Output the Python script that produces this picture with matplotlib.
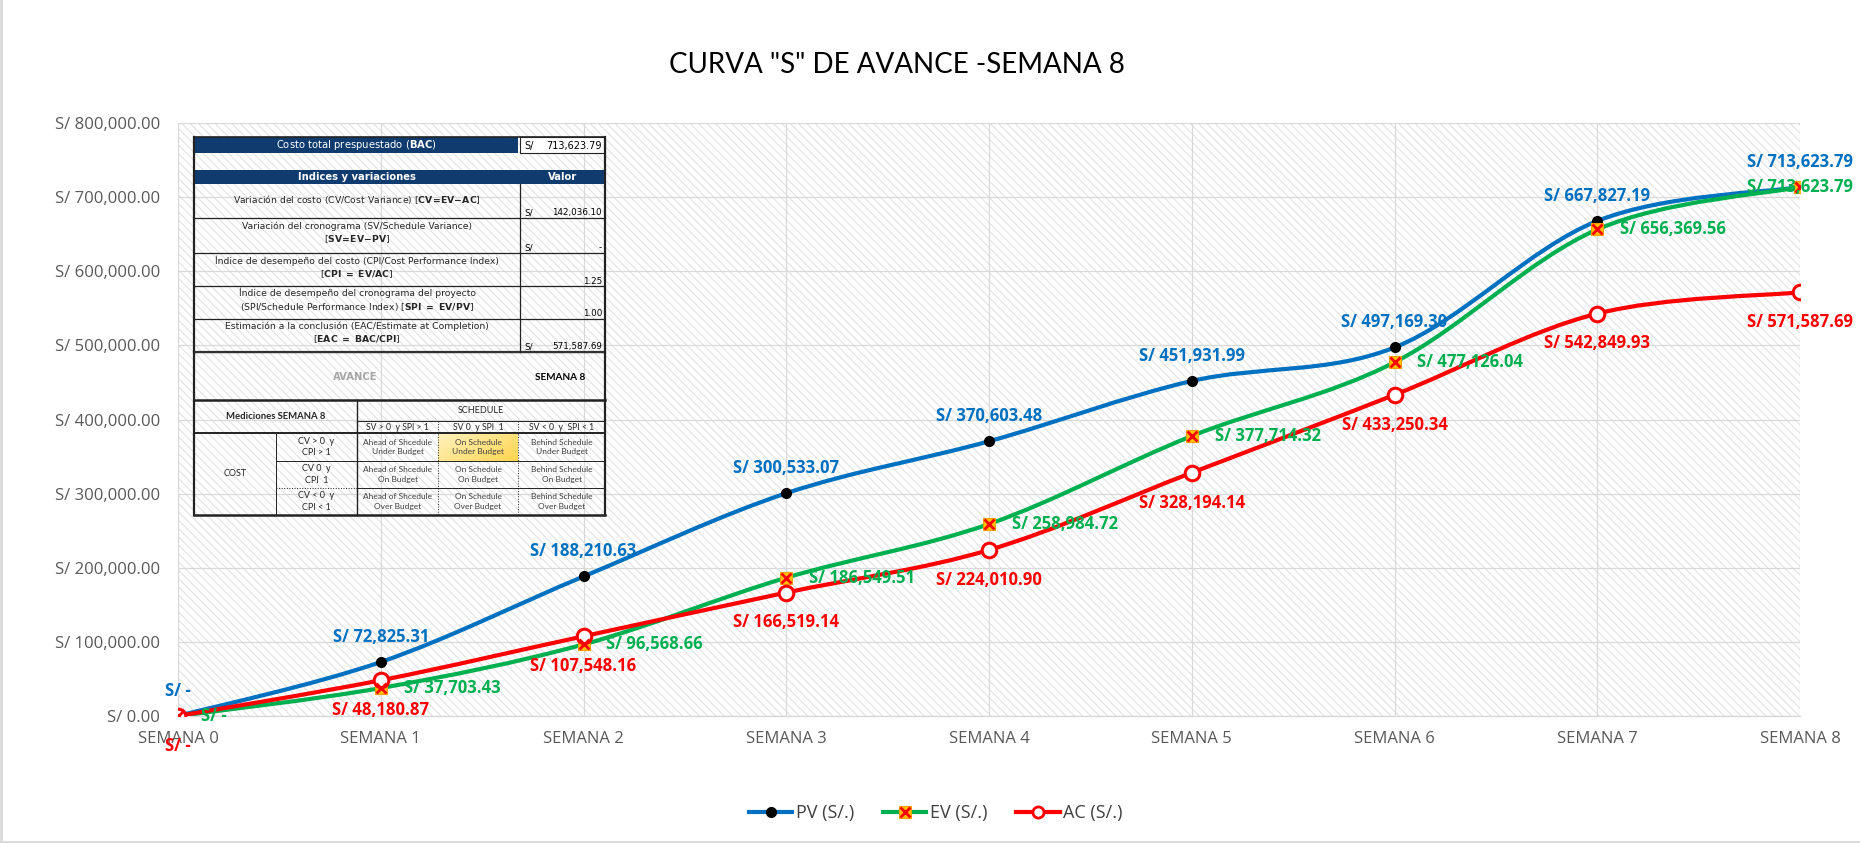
#=======================================================================
# Curva "S" de avance - semana 8 (PV / EV / AC)
#=======================================================================

import matplotlib
matplotlib.use("Agg")
import matplotlib.pyplot as plt
import numpy as np
from matplotlib.path import Path
from matplotlib.patches import PathPatch, Rectangle
from matplotlib.lines import Line2D
from matplotlib.legend_handler import HandlerTuple
from matplotlib.ticker import FuncFormatter, MultipleLocator

#=======================================================================
# Data
#=======================================================================

semanas = ["SEMANA 0", "SEMANA 1", "SEMANA 2", "SEMANA 3", "SEMANA 4",
           "SEMANA 5", "SEMANA 6", "SEMANA 7", "SEMANA 8"]

pv = [0, 72825.31, 188210.63, 300533.07, 370603.48,
      451931.99, 497169.30, 667827.19, 713623.79]
ev = [0, 37703.43, 96568.66, 186549.51, 258984.72,
      377714.32, 477126.04, 656369.56, 713623.79]
ac = [0, 48180.87, 107548.16, 166519.14, 224010.90,
      328194.14, 433250.34, 542849.93, 571587.69]

seriesNames = ["PV (S/.)", "EV (S/.)", "AC (S/.)"]
titulo = 'CURVA "S" DE AVANCE -SEMANA 8'

#table contents
bacTexto = "Costo total prespuestado ($\\mathbf{BAC}$)"
bacValor = "713,623.79"
indicesHeader = ["Indices y variaciones", "Valor"]
indicesTexto = [
    "Variación del costo (CV/Cost Variance) [$\\mathbf{CV\\!=\\!EV\\!-\\!AC}$]",
    "Variación del cronograma (SV/Schedule Variance)\n[$\\mathbf{SV\\!=\\!EV\\!-\\!PV}$]",
    "Índice de desempeño del costo (CPI/Cost Performance Index)\n[$\\mathbf{CPI\\ =\\ EV/AC}$]",
    "Índice de desempeño del cronograma del proyecto\n(SPI/Schedule Performance Index) [$\\mathbf{SPI\\ =\\ EV/PV}$]",
    "Estimación a la conclusión (EAC/Estimate at Completion)\n[$\\mathbf{EAC\\ =\\ BAC/CPI}$]",
]
indicesMoneda = [True, True, False, False, True]
indicesValor = ["142,036.10", "-", "1.25", "1.00", "571,587.69"]
avanceTexto = ["AVANCE", "SEMANA 8"]
medicionesTexto = "Mediciones SEMANA 8"
scheduleCols = ["SV > 0  y SPI > 1", "SV 0  y SPI  1", "SV < 0  y  SPI < 1"]
costRows = ["CV > 0  y\nCPI > 1", "CV 0  y\nCPI  1", "CV < 0  y\nCPI < 1"]
matriz = [
    ["Ahead of Shcedule\nUnder Budget", "On Schedule\nUnder Budget", "Behind Schedule\nUnder Budget"],
    ["Ahead of Shcedule\nOn Budget", "On Schedule\nOn Budget", "Behind Schedule\nOn Budget"],
    ["Ahead of Shcedule\nOver Budget", "On Schedule\nOver Budget", "Behind Schedule\nOver Budget"],
]

#=======================================================================
# Style
#=======================================================================

plt.rcParams['font.family'] = ['Open Sans', 'DejaVu Sans']
plt.rcParams['mathtext.fontset'] = 'custom'
plt.rcParams['mathtext.rm'] = 'DejaVu Sans'
plt.rcParams['mathtext.bf'] = 'DejaVu Sans:bold'
plt.rcParams['hatch.linewidth'] = 0.8

colPV = '#0070C0'
colEV = '#00B050'
colAC = '#FF0000'
navy = '#0F3B6F'
grisTexto = '#595959'
grisGrid = '#D9D9D9'

#=======================================================================
# Functions
#=======================================================================

#excel-like smoothed line as cubic bezier path
def smoothpath(x, y):
    px = np.concatenate([[x[0]], x, [x[-1]]])
    py = np.concatenate([[y[0]], y, [y[-1]]])
    verts = [(x[0], y[0])]
    codes = [Path.MOVETO]
    for i in range(len(x) - 1):
        c1 = (px[i+1] + (px[i+2] - px[i]) / 6, py[i+1] + (py[i+2] - py[i]) / 6)
        c2 = (px[i+2] - (px[i+3] - px[i+1]) / 6, py[i+2] - (py[i+3] - py[i+1]) / 6)
        verts += [c1, c2, (x[i+1], y[i+1])]
        codes += [Path.CURVE4] * 3
    return Path(verts, codes)

def soles(v):
    if v == 0:
        return "S/ -"
    return "S/ {:,.2f}".format(v)

#=======================================================================
# Figure
#=======================================================================

fig = plt.figure(figsize=(18.6, 8.43), dpi=100)
ax = fig.add_axes([178/1860, 1 - 716/843, 1622/1860, 593/843])

x = np.arange(len(semanas))

#hatched plot area
bg = Rectangle((0, 0), 1, 1, transform=ax.transAxes, facecolor='white',
               edgecolor='#E2E2E2', hatch='\\\\\\\\', lw=0, zorder=0)
ax.add_patch(bg)
ax.set_axisbelow(True)
ax.grid(True, color=grisGrid, lw=0.9)

for vals, col in [(pv, colPV), (ev, colEV), (ac, colAC)]:
    ax.add_patch(PathPatch(smoothpath(x, np.array(vals, float)), facecolor='none',
                           edgecolor=col, lw=3, capstyle='round', joinstyle='round', zorder=3))

#markers
ax.plot(x, pv, ls='none', marker='o', ms=7, mfc='black', mec='black', zorder=4)
ax.plot(x, ev, ls='none', marker='s', ms=9, mfc='#FFC000', mec='#F4A000', mew=0.8, zorder=4)
ax.plot(x, ev, ls='none', marker='x', ms=7, mec=colAC, mew=2, zorder=5)
ax.plot(x, ac, ls='none', marker='o', ms=10.5, mfc='white', mec=colAC, mew=2.2, zorder=4)

#data labels
for i in x:
    ax.annotate(soles(pv[i]), (i, pv[i]), xytext=(0, 18), textcoords='offset points',
                ha='center', va='center', color=colPV, fontsize=12, fontweight='bold', zorder=6)
    if i == x[-1]:
        ax.annotate(soles(ev[i]), (i, ev[i]), xytext=(0, 0), textcoords='offset points',
                    ha='center', va='center', color=colEV, fontsize=12, fontweight='bold', zorder=6)
    else:
        ax.annotate(soles(ev[i]), (i, ev[i]), xytext=(16.5, 0), textcoords='offset points',
                    ha='left', va='center', color=colEV, fontsize=12, fontweight='bold', zorder=6)
    ax.annotate(soles(ac[i]), (i, ac[i]), xytext=(0, -21.5), textcoords='offset points',
                ha='center', va='center', color=colAC, fontsize=12, fontweight='bold', zorder=6)

ax.set_xlim(0, len(semanas) - 1)
ax.set_ylim(0, 800000)
ax.set_xticks(x)
ax.set_xticklabels(semanas)
ax.yaxis.set_major_locator(MultipleLocator(100000))
ax.yaxis.set_major_formatter(FuncFormatter(lambda v, p: "S/ {:,.2f}".format(v)))
ax.tick_params(axis='both', length=0, labelsize=12, labelcolor=grisTexto)
ax.tick_params(axis='y', pad=13)
ax.tick_params(axis='x', pad=11)
for s in ['top', 'right', 'left']:
    ax.spines[s].set_visible(False)
ax.spines['bottom'].set_color(grisGrid)
ax.spines['bottom'].set_linewidth(1)

#title
fig.text(897/1860, 1 - 65/843, titulo, ha='center', va='center', fontsize=20,
         color='black', family=['Lato', 'DejaVu Sans'])

#legend
hPV = Line2D([], [], color=colPV, lw=3, marker='o', ms=7, mfc='black', mec='black')
hEV1 = Line2D([], [], color=colEV, lw=3, marker='s', ms=9, mfc='#FFC000', mec='#F4A000', mew=0.8)
hEV2 = Line2D([], [], ls='none', marker='x', ms=7, mec=colAC, mew=2)
hAC = Line2D([], [], color=colAC, lw=3, marker='o', ms=8, mfc='white', mec=colAC, mew=2)
fig.legend([hPV, (hEV1, hEV2), hAC], seriesNames, loc='center',
           bbox_to_anchor=(936/1860, 1 - 813/843), ncol=3, frameon=False,
           fontsize=13, labelcolor='#404040', handlelength=2.4, columnspacing=1.6,
           handletextpad=0.2, handler_map={tuple: HandlerTuple(ndivide=1, pad=0)})

#chart border (left and bottom visible)
fig.add_artist(Line2D([0.0008, 0.0008], [0, 1], color='#D9D9D9', lw=2))
fig.add_artist(Line2D([0, 1], [0.0012, 0.0012], color='#D9D9D9', lw=2))

#=======================================================================
# Table over the plot area (pixel coordinates)
#=======================================================================

tb = fig.add_axes([0, 0, 1, 1], zorder=5)
tb.set_xlim(0, 1860)
tb.set_ylim(843, 0)
tb.axis('off')
tb.patch.set_visible(False)

def caja(x0, y0, x1, y1, fc='none', ec='none', lw=0.8):
    tb.add_patch(Rectangle((x0, y0), x1 - x0, y1 - y0, facecolor=fc, edgecolor=ec, lw=lw))

def linea(xs, ys, ls='-', lw=0.8, col='#222222'):
    tb.plot(xs, ys, color=col, lw=lw, ls=ls)

tx0, tmid, tx1 = 194, 520, 605
tfont = ['DejaVu Sans']

#BAC row
caja(tx0, 137, 518, 153, fc=navy)
caja(tmid, 137, tx1, 153, fc='white', ec='#222222')
tb.text((tx0 + 518) / 2, 145.5, bacTexto, ha='center', va='center', color='white',
        fontsize=7.2, family=tfont)
tb.text(tmid + 4, 146, "S/", ha='left', va='center', fontsize=7, family=tfont)
tb.text(tx1 - 3, 146, bacValor, ha='right', va='center', fontsize=7, family=tfont)

#indices header
caja(tx0, 170, tx1, 184, fc=navy)
tb.text((tx0 + tmid) / 2, 177, indicesHeader[0], ha='center', va='center', color='white',
        fontsize=7.2, fontweight='bold', family=tfont)
tb.text((tmid + tx1) / 2, 177, indicesHeader[1], ha='center', va='center', color='white',
        fontsize=7.2, fontweight='bold', family=tfont)

rowEdges = [184, 218, 253, 286, 319, 352]
for k in range(len(indicesTexto)):
    ya, yb = rowEdges[k], rowEdges[k + 1]
    tb.text((tx0 + tmid) / 2, (ya + yb) / 2 - 2, indicesTexto[k], ha='center', va='center',
            fontsize=6.7, family=tfont, color='#262626', linespacing=1.3)
    if indicesMoneda[k]:
        tb.text(tmid + 4, yb - 5, "S/", ha='left', va='center', fontsize=6.3, family=tfont)
    tb.text(tx1 - 3, yb - 5, indicesValor[k], ha='right', va='center', fontsize=6.3, family=tfont)
    linea([tx0, tx1], [yb, yb], lw=0.9)
linea([tx0, tx1], [352, 352], lw=1.6, col='#333333')
linea([tmid, tmid], [184, 352], lw=0.9)

#avance row
tb.text(355, 377, avanceTexto[0], ha='center', va='center', fontsize=7.2,
        fontweight='bold', color='#A6A6A6', family=tfont)
tb.text(560, 377, avanceTexto[1], ha='center', va='center', fontsize=7.2,
        fontweight='bold', color='black', family=['Lato', 'DejaVu Sans'])

#matrix
mx = [194, 276, 357, 438, 518, 605]
my = [400, 421, 433, 461, 488, 515]
grad = np.linspace(0, 1, 64).reshape(1, -1) + np.linspace(0, 0.6, 16).reshape(-1, 1)
tb.imshow(grad, extent=(mx[3], mx[4], my[3], my[2]), aspect='auto', zorder=1,
          cmap=matplotlib.colors.LinearSegmentedColormap.from_list('y', ['#FFF2BF', '#FFD54F']))
tb.set_xlim(0, 1860)
tb.set_ylim(843, 0)

mfont = ['Lato', 'DejaVu Sans']
tb.text((mx[0] + mx[2]) / 2, (my[0] + my[2]) / 2, medicionesTexto, ha='center', va='center',
        fontsize=6.8, fontweight='bold', color='#262626', family=mfont)
tb.text((mx[2] + mx[5]) / 2, (my[0] + my[1]) / 2, "SCHEDULE", ha='center', va='center',
        fontsize=6.5, color='#262626', family=mfont)
for j in range(3):
    tb.text((mx[j + 2] + mx[j + 3]) / 2, (my[1] + my[2]) / 2, scheduleCols[j], ha='center',
            va='center', fontsize=6.2, color='#262626', family=mfont)
tb.text((mx[0] + mx[1]) / 2, (my[2] + my[5]) / 2, "COST", ha='center', va='center',
        fontsize=6.5, color='#262626', family=mfont)
for r in range(3):
    yc = (my[r + 2] + my[r + 3]) / 2
    tb.text((mx[1] + mx[2]) / 2, yc, costRows[r], ha='center', va='center', fontsize=6.5,
            color='#262626', family=mfont, linespacing=1.35)
    for j in range(3):
        tb.text((mx[j + 2] + mx[j + 3]) / 2, yc, matriz[r][j], ha='center', va='center',
                fontsize=6, color='#404040', family=mfont, linespacing=1.45, zorder=3)

linea([tx0, tx1], [400, 400], lw=1.8, col='#222222')
linea([mx[2], tx1], [my[1], my[1]], lw=0.7)
linea([tx0, tx1], [my[2], my[2]], lw=1.4)
linea([mx[1], tx1], [my[3], my[3]], lw=0.7)
linea([mx[1], mx[2]], [my[4], my[4]], lw=0.7, ls=':')
linea([mx[2], tx1], [my[4], my[4]], lw=0.7)
linea([mx[1], mx[1]], [my[2], my[5]], lw=0.7)
linea([mx[2], mx[2]], [400, my[5]], lw=1.0)
for xv in [mx[3], mx[4]]:
    linea([xv, xv], [my[1], my[5]], lw=0.7, ls=':')
linea([tx0, tx1], [my[5], my[5]], lw=1.8)

#outer border
linea([tx0, tx0], [137, 515], lw=1.6)
linea([tx1, tx1], [137, 515], lw=1.6)
linea([tx0, tx1], [137, 137], lw=1.2)

fig.savefig("out.png", dpi=100)
